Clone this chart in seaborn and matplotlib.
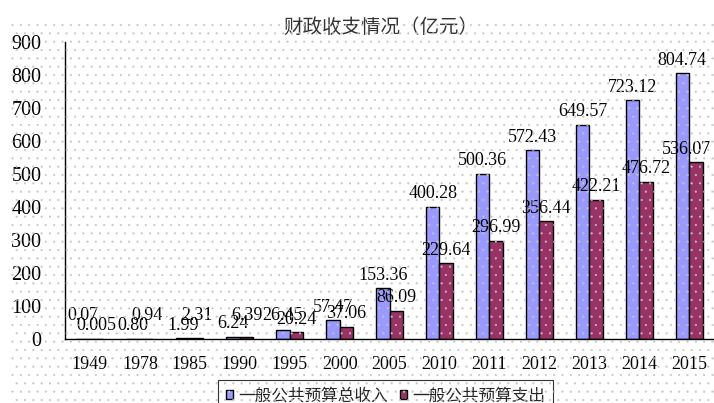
import matplotlib
matplotlib.use("Agg")
import matplotlib.pyplot as plt
from matplotlib.patches import Patch, Rectangle
import seaborn as sns
import pandas as pd

years = ["1949", "1978", "1985", "1990", "1995", "2000", "2005",
         "2010", "2011", "2012", "2013", "2014", "2015"]
revenue = [0.07, 0.80, 1.99, 6.24, 26.45, 57.47, 153.36,
           400.28, 500.36, 572.43, 649.57, 723.12, 804.74]
expenditure = [0.005, 0.94, 2.31, 6.39, 20.24, 37.06, 86.09,
               229.64, 296.99, 356.44, 422.21, 476.72, 536.07]
revenue_labels = ["0.07", "0.80", "1.99", "6.24", "26.45", "57.47", "153.36",
                  "400.28", "500.36", "572.43", "649.57", "723.12", "804.74"]
expenditure_labels = ["0.005", "0.94", "2.31", "6.39", "20.24", "37.06", "86.09",
                      "229.64", "296.99", "356.44", "422.21", "476.72", "536.07"]
series_names = ["一般公共预算总收入", "一般公共预算支出"]
title = "财政收支情况（亿元）"
yticks = [0, 100, 200, 300, 400, 500, 600, 700, 800, 900]
colors = ["#9999FF", "#993366"]

sns.set_style("white")
plt.rcParams["font.family"] = ["Liberation Serif", "Noto Sans CJK SC", "DejaVu Sans"]
plt.rcParams["hatch.color"] = "#c4c4c4"
plt.rcParams["hatch.linewidth"] = 0.3

df = pd.DataFrame({
    "year": years * 2,
    "value": revenue + expenditure,
    "series": [series_names[0]] * len(years) + [series_names[1]] * len(years),
})

W, H = 714, 403
fig = plt.figure(figsize=(W / 100, H / 100), dpi=100)
ax = fig.add_axes([65 / W, (H - 339) / H, (714 - 65) / W, (339 - 42) / H])

sns.barplot(data=df, x="year", y="value", hue="series", order=years,
            hue_order=series_names, palette=colors, width=0.54,
            edgecolor="black", linewidth=1.0, saturation=1, ax=ax)
if ax.get_legend() is not None:
    ax.get_legend().remove()

ax.set_ylim(0, 900)
ax.set_xlim(-0.5, len(years) - 0.5)
ax.set_yticks(yticks)
ax.set_yticklabels([str(v) for v in yticks], fontsize=14.5)
ax.set_xlabel("")
ax.set_ylabel("")
ax.tick_params(axis="y", direction="in", length=5, width=1, pad=17, colors="black")
ax.tick_params(axis="x", which="major", length=0, pad=12, labelsize=13, colors="black")
ax.set_xticks([i + 0.5 for i in range(len(years) - 1)], minor=True)
ax.tick_params(axis="x", which="minor", direction="in", length=5, width=1, color="black")
for s in ["top", "right"]:
    ax.spines[s].set_visible(False)
for s in ["left", "bottom"]:
    ax.spines[s].set_color("black")
    ax.spines[s].set_linewidth(1.0)
ax.patch.set_alpha(0)
fig.patch.set_facecolor("white")

# data labels
px_per_unit = (339 - 42) / 900.0
lab_sets = [revenue_labels, expenditure_labels]
vals = [revenue, expenditure]
texts = []
for k, cont in enumerate(ax.containers):
    for i, bar in enumerate(cont.patches):
        h = bar.get_height()
        other = vals[1 - k][i]
        floor = 24 if vals[k][i] >= other else 14
        above = max(h * px_per_unit + 13, floor)
        xc = bar.get_x() + bar.get_width() / 2
        t = ax.annotate(lab_sets[k][i], xy=(xc, 0), xytext=(0, above * 0.72),
                        textcoords="offset points", ha="center", va="center",
                        fontsize=13, color="black", annotation_clip=False)
        texts.append(t)

fig.canvas.draw()
r = fig.canvas.get_renderer()
for t in texts:
    bb = t.get_window_extent(r)
    if bb.x1 > W - 3:
        dx = (bb.x1 - (W - 3)) * 0.72
        x0, y0 = t.xyann
        t.xyann = (x0 - dx, y0)

fig.text(381 / W, (H - 27) / H, title, ha="center", va="center",
         fontsize=14, color="#333333",
         family=["Noto Sans CJK SC", "DejaVu Sans"])

handles = [Patch(facecolor=c, edgecolor="black", linewidth=1.0) for c in colors]
leg = fig.legend(handles, series_names, loc="upper center",
                 bbox_to_anchor=(385.5 / W, (H - 372) / H), ncol=2,
                 frameon=True, fancybox=False, edgecolor="black",
                 handlelength=0.45, handleheight=0.45, handletextpad=0.3,
                 columnspacing=0.7, borderpad=0.45,
                 prop={"family": ["Noto Sans CJK SC", "DejaVu Sans"], "size": 12})
leg.get_frame().set_linewidth(0.8)

# dotted texture
dots = Rectangle((10 / W, 0), 1 - 10 / W, (H - 20) / H, transform=fig.transFigure,
                 fill=False, hatch="..", edgecolor="#c4c4c4", linewidth=0, zorder=20)
fig.add_artist(dots)

fig.savefig("out.png", dpi=100)
